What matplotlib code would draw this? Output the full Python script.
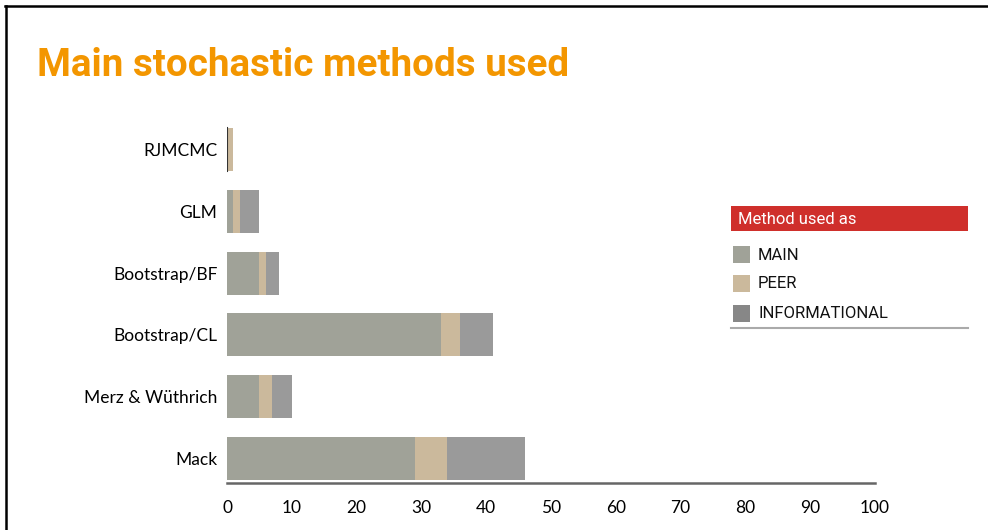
import matplotlib
matplotlib.use("Agg")
import matplotlib.pyplot as plt
from matplotlib.patches import Rectangle
from matplotlib.lines import Line2D

methods = ["Mack", "Merz & Wüthrich", "Bootstrap/CL", "Bootstrap/BF", "GLM", "RJMCMC"]
main_vals = [29, 5, 33, 5, 1, 0]
peer_vals = [5, 2, 3, 1, 1, 1]
info_vals = [12, 3, 5, 2, 3, 0]
series_names = ["MAIN", "PEER", "INFORMATIONAL"]
xticks = list(range(0, 101, 10))

C_MAIN = "#a0a298"
C_PEER = "#cbb99c"
C_INFO = "#9a9a9a"
C_INFO_KEY = "#878787"
ORANGE = "#f39600"
RED = "#cf2f2b"
COND = ["Roboto", "DejaVu Sans"]

W, H = 988, 530
fig = plt.figure(figsize=(W / 100, H / 100), dpi=100)

def fx(px):
    return px / W

def fy(py):
    return 1 - py / H

# slide edges: top and left only
fig.add_artist(Line2D([fx(5), 1], [fy(6), fy(6)], transform=fig.transFigure, color="black", lw=1.8))
fig.add_artist(Line2D([fx(6), fx(6)], [fy(6), 0], transform=fig.transFigure, color="black", lw=1.8))

fig.text(fx(37), fy(65), "Main stochastic methods used", color=ORANGE, fontsize=27.8,
         fontweight="bold", family=COND, va="center")

ax = fig.add_axes([fx(227), fy(483), fx(648), (483 - 125) / H])
ypos = list(range(len(methods)))
left2 = [m + p for m, p in zip(main_vals, peer_vals)]
ax.barh(ypos, main_vals, height=0.7, color=C_MAIN)
ax.barh(ypos, peer_vals, left=main_vals, height=0.7, color=C_PEER)
ax.barh(ypos, info_vals, left=left2, height=0.7, color=C_INFO)
ax.plot([0, 0], [4.65, 5.35], color="#333333", lw=1.5)

ax.set_xlim(0, 100)
ax.set_ylim(-0.4, 5.4)
ax.set_xticks(xticks)
ax.set_yticks(ypos)
ax.set_yticklabels(methods)
for s in ["top", "right", "left"]:
    ax.spines[s].set_visible(False)
ax.spines["bottom"].set_color("#666666")
ax.spines["bottom"].set_linewidth(1.8)
ax.tick_params(length=0, labelsize=12.5)
ax.tick_params(axis="x", pad=12)
ax.tick_params(axis="y", pad=7)
for lab in ax.get_xticklabels() + ax.get_yticklabels():
    lab.set_family("Lato")

# legend block
fig.add_artist(Rectangle((fx(731), fy(231)), fx(237), (231 - 206) / H,
                         transform=fig.transFigure, color=RED, lw=0))
fig.text(fx(738), fy(219), "Method used as", color="white", fontsize=12,
         family=COND, va="center")
key_cols = [C_MAIN, C_PEER, C_INFO_KEY]
key_y = [255, 284, 314]
for name, col, yy in zip(series_names, key_cols, key_y):
    fig.add_artist(Rectangle((fx(733), fy(yy + 8)), fx(17), 17 / H,
                             transform=fig.transFigure, color=col, lw=0))
    fig.text(fx(758), fy(yy), name, color="#111111", fontsize=12,
             family=COND, va="center")
fig.add_artist(Line2D([fx(731), fx(968)], [fy(328), fy(328)],
                      transform=fig.transFigure, color="#aaaaaa", lw=1.5))

fig.savefig("out.png", dpi=100)
